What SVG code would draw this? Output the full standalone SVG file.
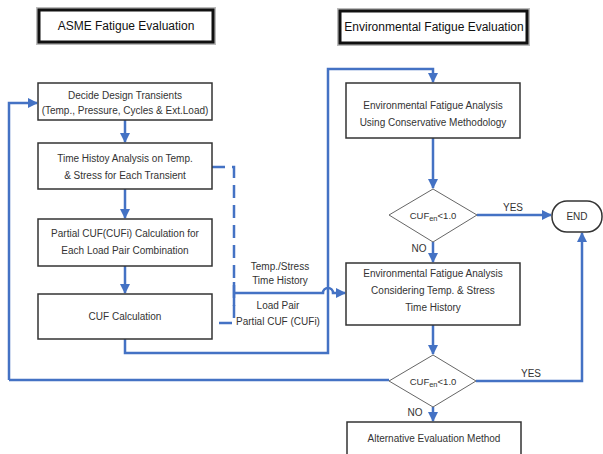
<svg xmlns="http://www.w3.org/2000/svg" width="603" height="454" viewBox="0 0 603 454">
<defs>
<marker id="ah" viewBox="0 0 10 10" refX="9" refY="5" markerWidth="4" markerHeight="4" orient="auto" markerUnits="strokeWidth"><path d="M0,0 L10,5 L0,10 z" fill="#4472C4"/></marker>
</defs>
<style>
.box{fill:#fff;stroke:#333;stroke-width:1.5}
.title{fill:#fff;stroke:#111;stroke-width:3}
.shadow{fill:none;stroke:#bbb;stroke-width:2}
.dia{fill:#fff;stroke:#666;stroke-width:1}
text{font-family:"Liberation Sans",Arial,sans-serif;font-size:10px;fill:#333;text-anchor:middle}
.t{font-size:12px;fill:#111}
.s{font-size:9.5px}
.c{fill:none;stroke:#4472C4;stroke-width:2.5}
.a{marker-end:url(#ah)}
.d{stroke-dasharray:13,7}
</style>
<rect width="603" height="454" fill="#fff"/>
<g id="connectors">
<path class="c a" d="M9,380 V103 H37"/>
<path class="c" d="M9,380 H389"/>
<path class="c a" d="M125,120 V142"/>
<path class="c a" d="M125,189 V218"/>
<path class="c a" d="M125,266 V293"/>
<path class="c a" d="M125,339 V353 H328 V69 H433 V82"/>
<path class="c a" d="M433,138 V188"/>
<path class="c a" d="M477,215 H551"/>
<path class="c a" d="M433,242 V262"/>
<path class="c a" d="M433,325 V354"/>
<path class="c a" d="M476,381 H582 V233"/>
<path class="c a" d="M433,407 V421"/>
<path class="c d" d="M212,167 H234 V323 H212"/>
<path class="c" d="M234,282 V306"/>
<path class="c a" d="M234,293 H323 A5,5 0 0 1 333,293 H345"/>
</g>
<g id="title1"><rect class="shadow" x="37" y="8" width="178" height="36"/><rect class="title" x="39" y="10" width="174" height="32"/><text class="t" x="126" y="30">ASME Fatigue Evaluation</text></g>
<g id="title2"><rect class="shadow" x="338" y="9" width="191" height="36"/><rect class="title" x="340" y="11" width="187" height="32"/><text class="t" x="434" y="31">Environmental Fatigue Evaluation</text></g>
<g id="n1"><rect class="box" x="38" y="83" width="174" height="37"/><text x="125" y="99">Decide Design Transients</text><text x="125" y="114">(Temp., Pressure, Cycles &amp; Ext.Load)</text></g>
<g id="n2"><rect class="box" x="38" y="143" width="174" height="46"/><text x="125" y="162">Time Histoy Analysis on Temp.</text><text x="125" y="179">&amp; Stress for Each Transient</text></g>
<g id="n3"><rect class="box" x="38" y="219" width="174" height="47"/><text x="125" y="237">Partial CUF(CUFi) Calculation for</text><text x="125" y="254">Each Load Pair Combination</text></g>
<g id="n4"><rect class="box" x="38" y="294" width="174" height="45"/><text x="125" y="320">CUF Calculation</text></g>
<g id="e1"><rect class="box" x="346" y="83" width="174" height="55"/><text x="433" y="109">Environmental Fatigue Analysis</text><text x="433" y="126">Using Conservative Methodology</text></g>
<g id="d1"><polygon class="dia" points="433,189 477,215 433,242 389,215"/><text class="s" x="433" y="219">CUF<tspan font-size="7.5" dy="2">en</tspan><tspan dy="-2">&lt;1.0</tspan></text></g>
<g id="end"><rect class="box" x="552" y="201" width="50" height="31" rx="15"/><text x="577" y="220">END</text></g>
<g id="e2"><rect class="box" x="346" y="263" width="174" height="62"/><text x="433" y="277">Environmental Fatigue Analysis</text><text x="433" y="294">Considering Temp. &amp; Stress</text><text x="433" y="311">Time History</text></g>
<g id="d2"><polygon class="dia" points="433,355 476,381 433,407 389,381"/><text class="s" x="433" y="385">CUF<tspan font-size="7.5" dy="2">en</tspan><tspan dy="-2">&lt;1.0</tspan></text></g>
<g id="alt"><rect class="box" x="347" y="422" width="174" height="40"/><text x="434" y="442">Alternative Evaluation Method</text></g>
<g id="labels">
<text x="513" y="211">YES</text>
<text x="419" y="252">NO</text>
<text x="531" y="377">YES</text>
<text x="415" y="416">NO</text>
<text x="280" y="270">Temp./Stress</text>
<text x="280" y="284">Time History</text>
<text x="278" y="309">Load Pair</text>
<text x="278" y="325">Partial CUF (CUFi)</text>
</g>
</svg>
